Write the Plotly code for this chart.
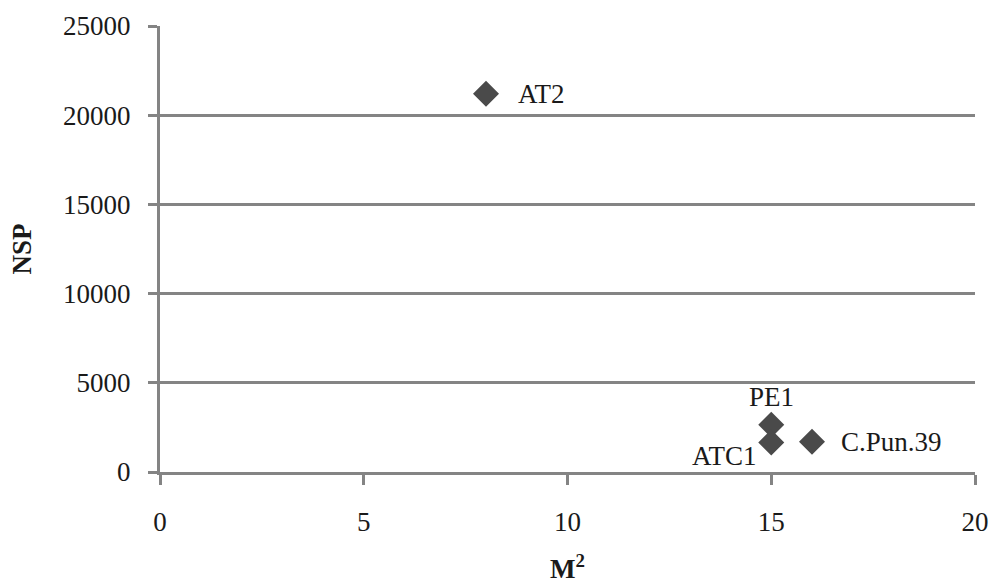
import plotly.graph_objects as go

names = ["AT2", "PE1", "ATC1", "C.Pun.39"]
m2 = [8, 15, 15, 16]
nsp = [21200, 2650, 1650, 1700]
x_ticks = [0, 5, 10, 15, 20]
y_ticks = [0, 5000, 10000, 15000, 20000, 25000]

# label placement relative to each point: (xanchor, xshift, yshift)
label_place = [("left", 30, 0), ("center", 0, 28), ("right", -12, -13), ("left", 27, 0)]

grey = "#848484"
font_family = "Liberation Serif, Times New Roman, serif"
txt = "#1a1a1a"

fig = go.Figure()
fig.add_trace(go.Scatter(
    x=m2, y=nsp, mode="markers",
    marker=dict(symbol="diamond", size=20, color="#4a4a4a"),
    cliponaxis=False, showlegend=False, hoverinfo="text", text=names,
))

for name, xv, yv, (xa, xs, ys) in zip(names, m2, nsp, label_place):
    fig.add_annotation(
        x=xv, y=yv, text=name, showarrow=False,
        xanchor=xa, yanchor="middle", xshift=xs, yshift=ys,
        font=dict(family=font_family, size=27, color=txt),
    )

fig.update_layout(
    width=991, height=584,
    margin=dict(l=160, r=16, t=26, b=112),
    paper_bgcolor="white", plot_bgcolor="white",
    font=dict(family=font_family, size=27, color=txt),
    xaxis=dict(
        range=[0, 20], tickvals=x_ticks, tickformat="d",
        showgrid=False, zeroline=False,
        showline=True, linecolor=grey, linewidth=3,
        ticks="outside", ticklen=10, tickwidth=3, tickcolor=grey,
        ticklabelstandoff=14, ticklabeloverflow="allow",
        title=dict(text="<b>M<sup>2</sup></b>", standoff=44,
                   font=dict(family=font_family, size=27, color=txt)),
        automargin=False,
    ),
    yaxis=dict(
        range=[0, 25000], tickvals=y_ticks, tickformat="d",
        showgrid=True, gridcolor=grey, gridwidth=3, zeroline=False,
        showline=True, linecolor=grey, linewidth=3,
        ticks="outside", ticklen=9, tickwidth=3, tickcolor=grey,
        ticklabelstandoff=12,
        title=dict(text="<b>NSP</b>", standoff=24,
                   font=dict(family=font_family, size=27, color=txt)),
        automargin=False,
    ),
)

fig.write_html(
    "out.html",
    config={"displayModeBar": False},
    post_script="document.body.style.margin='0';document.body.style.overflow='hidden';",
)
